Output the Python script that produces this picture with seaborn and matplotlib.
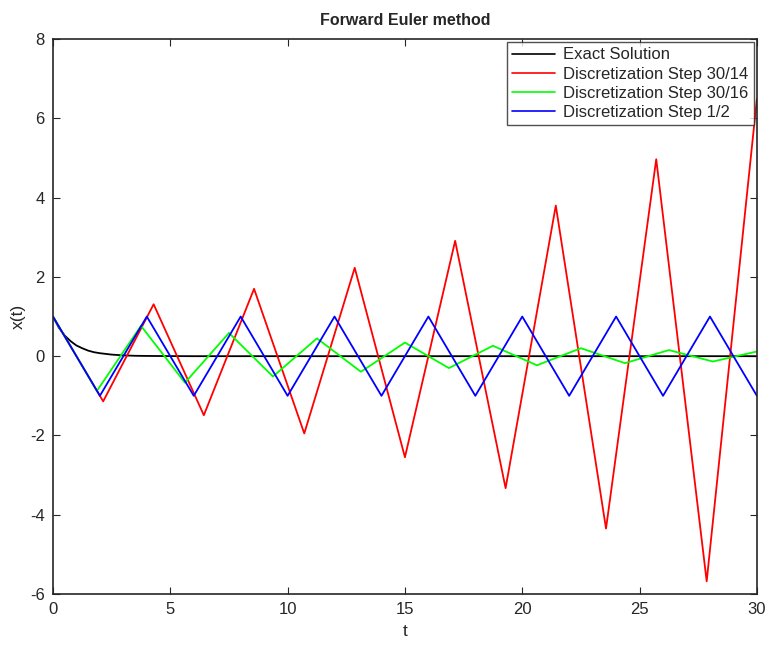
import numpy as np
import pandas as pd
import seaborn as sns
import matplotlib.pyplot as plt

# exact solution
t_exact = [0, 0.25, 0.5, 0.75, 1, 1.25, 1.5, 1.75, 2, 2.5, 3, 3.5, 4, 5, 6, 30]
x_exact = [1, 0.72, 0.52, 0.38, 0.27, 0.20, 0.14, 0.10, 0.075, 0.04, 0.02, 0.01, 0.006, 0.002, 0.0, 0.0]

# step 30/14
t_red = [0, 2.14, 4.29, 6.43, 8.57, 10.71, 12.86, 15, 17.14, 19.29, 21.43, 23.57, 25.71, 27.86, 30]
x_red = [1, -1.14, 1.31, -1.49, 1.70, -1.95, 2.23, -2.55, 2.91, -3.33, 3.80, -4.35, 4.97, -5.68, 6.49]

# step 30/16
t_green = [0, 1.875, 3.75, 5.625, 7.5, 9.375, 11.25, 13.125, 15, 16.875, 18.75,
           20.625, 22.5, 24.375, 26.25, 28.125, 30]
x_green = [1, -0.875, 0.766, -0.67, 0.586, -0.513, 0.449, -0.393, 0.344, -0.301, 0.263,
           -0.23, 0.201, -0.176, 0.154, -0.135, 0.118]

# step 1/2
t_blue = [0, 2, 4, 6, 8, 10, 12, 14, 16, 18, 20, 22, 24, 26, 28, 30]
x_blue = [1, -1, 1, -1, 1, -1, 1, -1, 1, -1, 1, -1, 1, -1, 1, -1]

labels = ['Exact Solution', 'Discretization Step 30/14',
          'Discretization Step 30/16', 'Discretization Step 1/2']
colors = ['black', '#ff0000', '#00ff00', '#0000ff']

frames = []
for lab, tt, xx in zip(labels, [t_exact, t_red, t_green, t_blue],
                       [x_exact, x_red, x_green, x_blue]):
    frames.append(pd.DataFrame({'t': tt, 'x': xx, 'series': lab}))
df = pd.concat(frames, ignore_index=True)

sns.set_style('ticks')
plt.rcParams['font.family'] = ['Liberation Sans', 'DejaVu Sans']
plt.rcParams['axes.unicode_minus'] = False

fig = plt.figure(figsize=(7.71, 6.52), dpi=100)
ax = fig.add_axes([0.0687, 0.089, 0.913, 0.851])

sns.lineplot(data=df, x='t', y='x', hue='series', hue_order=labels,
             palette=colors, sort=False, estimator=None, linewidth=1.3, ax=ax)

ax.set_xlim(0, 30)
ax.set_ylim(-6, 8)
ax.set_xticks(range(0, 31, 5))
ax.set_yticks(range(-6, 9, 2))
ax.tick_params(direction='in', top=True, right=True, length=5, width=0.8,
               labelsize=12, colors='#262626', pad=6)
for s in ax.spines.values():
    s.set_visible(True)
    s.set_linewidth(1.2)
    s.set_color('#262626')

ax.set_xlabel('t', fontsize=12.5, labelpad=5)
ax.set_ylabel('x(t)', fontsize=12.5, labelpad=3)
ax.set_title('Forward Euler method', fontsize=11.5, fontweight='bold', pad=10)

leg = ax.legend(loc='upper right', fontsize=12, frameon=True, fancybox=False,
                borderaxespad=0.2, handlelength=2.6, labelspacing=0.25,
                borderpad=0.3, handletextpad=0.5)
leg.get_frame().set_edgecolor('#262626')
leg.get_frame().set_linewidth(1.0)
for line in leg.get_lines():
    line.set_linewidth(1.2)

fig.savefig('out.png', dpi=100)
